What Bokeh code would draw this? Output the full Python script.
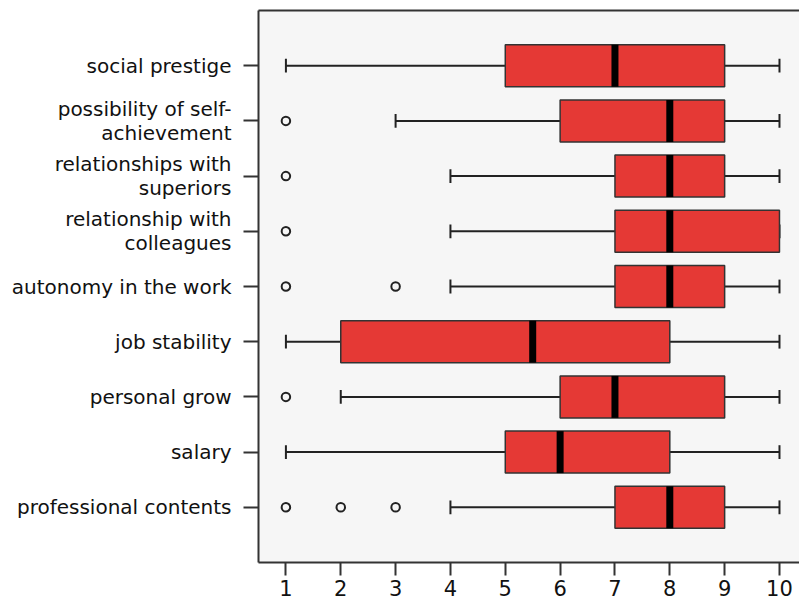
from bokeh.plotting import figure
from bokeh.models import Range1d, FixedTicker, LinearAxis, ColumnDataSource
from bokeh.embed import file_html
from bokeh.resources import INLINE

# categories, bottom to top
categories = ["professional contents", "salary", "personal grow", "job stability",
              "autonomy in the work", "relationship with\ncolleagues",
              "relationships with\nsuperiors", "possibility of self-\nachievement",
              "social prestige"]
whisker_low = [4, 1, 2, 1, 4, 4, 4, 3, 1]
q1 = [7, 5, 6, 2, 7, 7, 7, 6, 5]
median = [8, 6, 7, 5.5, 8, 8, 8, 8, 7]
q3 = [9, 8, 9, 8, 9, 10, 9, 9, 9]
whisker_high = [10, 10, 10, 10, 10, 10, 10, 10, 10]
outliers = [[1, 2, 3], [], [1], [], [1, 3], [1], [1], [1], []]
x_ticks = [1, 2, 3, 4, 5, 6, 7, 8, 9, 10]

pos = list(range(1, len(categories) + 1))
BOX_H = 0.76
CAP_H = 0.25

p = figure(width=799, height=601, output_backend="svg", toolbar_location=None,
           x_range=Range1d(0.5, 10.365), y_range=Range1d(0, 10),
           min_border_left=258, min_border_top=10, min_border_bottom=39,
           min_border_right=0, x_axis_location="below")
p.background_fill_color = "#f6f6f6"
p.border_fill_color = "white"
p.outline_line_color = None
p.grid.visible = False

font = "DejaVu Sans"
lc = "#222222"

# x axis
p.xaxis.ticker = FixedTicker(ticks=x_ticks)
p.xaxis.major_tick_out = 13
p.xaxis.major_tick_in = 0
p.xaxis.minor_tick_line_color = None
p.xaxis.major_label_text_font = font
p.xaxis.major_label_text_font_size = "21px"
p.xaxis.major_label_text_color = "#111111"
p.xaxis.major_label_standoff = 4
p.xaxis.axis_line_width = 2
p.xaxis.axis_line_color = "#333333"
p.xaxis.major_tick_line_width = 2
p.xaxis.major_tick_line_color = "#333333"

# y axis
p.yaxis.ticker = FixedTicker(ticks=pos)
p.yaxis.major_label_overrides = {i: c for i, c in zip(pos, categories)}
p.yaxis.major_tick_out = 15
p.yaxis.major_tick_in = 0
p.yaxis.minor_tick_line_color = None
p.yaxis.major_label_text_font = font
p.yaxis.major_label_text_font_size = "20px"
p.yaxis.major_label_text_line_height = 1.0
p.yaxis.major_label_text_color = "#111111"
p.yaxis.major_label_standoff = 12
p.yaxis.axis_line_width = 2
p.yaxis.axis_line_color = "#333333"
p.yaxis.major_tick_line_width = 2
p.yaxis.major_tick_line_color = "#333333"

# top border line
top = LinearAxis(ticker=FixedTicker(ticks=[]), major_tick_out=0, major_tick_in=0,
                 minor_tick_out=0, minor_tick_in=0,
                 major_label_text_font_size="0px", axis_line_width=2,
                 axis_line_color="#333333")
p.add_layout(top, "above")

src = ColumnDataSource(dict(pos=pos, lo=whisker_low, q1=q1, med=median, q3=q3, hi=whisker_high,
                            pb=[y - BOX_H / 2 for y in pos], pt=[y + BOX_H / 2 for y in pos],
                            cb=[y - CAP_H / 2 for y in pos], ct=[y + CAP_H / 2 for y in pos]))

# whiskers
p.segment(x0="lo", x1="q1", y0="pos", y1="pos", source=src, line_color=lc, line_width=2)
p.segment(x0="q3", x1="hi", y0="pos", y1="pos", source=src, line_color=lc, line_width=2)
p.segment(x0="lo", x1="lo", y0="cb", y1="ct", source=src, line_color=lc, line_width=2)
p.segment(x0="hi", x1="hi", y0="cb", y1="ct", source=src, line_color=lc, line_width=2)

# boxes
p.hbar(y="pos", left="q1", right="q3", height=BOX_H, source=src,
       fill_color="#e53935", line_color="#333333", line_width=1.5)
# medians
p.segment(x0="med", x1="med", y0="pb", y1="pt", source=src, line_color="black",
          line_width=7, line_cap="butt")

# outliers
ox, oy = [], []
for y, vals in zip(pos, outliers):
    for v in vals:
        ox.append(v)
        oy.append(y)
p.scatter(ox, oy, marker="circle", size=8.5, fill_color=None, line_color=lc, line_width=2)

open("out.html", "w").write(file_html(p, INLINE))
